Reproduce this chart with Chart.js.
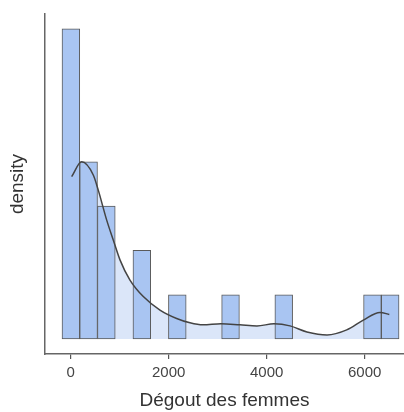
<!DOCTYPE html>
<html>
<head>
<meta charset="utf-8">
<script src="https://cdn.jsdelivr.net/npm/chart.js@4/dist/chart.umd.min.js"></script>
<style>
  html, body { margin: 0; padding: 0; background: #fff; }
  #wrap { width: 404px; height: 412px; }
</style>
</head>
<body>
<div id="wrap"><canvas id="histo" width="404" height="412"></canvas></div>
<script>
// --- données ---
const binCenters = [4, 366, 728, 1090, 1452, 1814, 2176, 2538, 2900, 3262, 3624, 3986, 4348, 4710, 5072, 5434, 5796, 6158, 6520];
const binCounts  = [7, 4, 3, 0, 2, 0, 1, 0, 0, 1, 0, 0, 1, 0, 0, 0, 0, 1, 1];
const binWidth = 362;

// courbe de densité (estimation noyau), lue point par point
const kdeX = [20, 224, 461, 563, 735, 869, 1006, 1210, 1482, 1822, 2163, 2435, 2700, 3067, 3455, 3802, 4149, 4476, 4822, 5231, 5633, 5971, 6312, 6502];
const kdeY = [4.82e-4, 5.26e-4, 4.87e-4, 4.42e-4, 3.53e-4, 2.94e-4, 2.35e-4, 1.75e-4, 1.26e-4, 0.86e-4, 0.61e-4, 0.48e-4, 0.42e-4, 0.45e-4, 0.42e-4, 0.39e-4, 0.45e-4, 0.39e-4, 0.21e-4, 0.12e-4, 0.27e-4, 0.56e-4, 0.79e-4, 0.73e-4];

const xTicks = [0, 2000, 4000, 6000];
const xLabel = 'Dégout des femmes';
const yLabel = 'density';

// histogramme en densité : effectif / (n * largeur de classe)
const nTotal = binCounts.reduce((a, b) => a + b, 0);
const barPoints = binCenters.map((x, i) => ({ x: x, y: binCounts[i] / (nTotal * binWidth) }))
                            .filter(p => p.y > 0);
const kdePoints = kdeX.map((x, i) => ({ x: x, y: kdeY[i] }));

const FONT = '"Liberation Sans", Arial, sans-serif';

new Chart(document.getElementById('histo'), {
    data: {
        datasets: [{
            // zone claire sous la courbe (derrière les barres)
            type: 'line',
            data: kdePoints,
            borderWidth: 0,
            pointRadius: 0,
            backgroundColor: '#dbe6f9',
            fill: 'origin',
            tension: 0.4,
            cubicInterpolationMode: 'monotone',
            order: 2
        }, {
            type: 'bar',
            data: barPoints,
            backgroundColor: '#a9c5f2',
            borderColor: '#5a5a5a',
            borderWidth: 1,
            borderSkipped: false,
            barPercentage: 1,
            categoryPercentage: 1,
            order: 1
        }, {
            type: 'line',
            data: kdePoints,
            borderColor: '#444444',
            borderWidth: 1.5,
            pointRadius: 0,
            fill: false,
            tension: 0.4,
            cubicInterpolationMode: 'monotone',
            order: 0
        }]
    },
    options: {
        responsive: false,
        animation: false,
        layout: { padding: { top: 14, right: 0, bottom: 0, left: 0 } },
        plugins: { legend: { display: false }, tooltip: { enabled: false } },
        scales: {
            x: {
                type: 'linear',
                min: -524,
                max: 6802,
                offset: false,
                afterBuildTicks: (scale) => { scale.ticks = xTicks.map(v => ({ value: v })); },
                afterFit: (scale) => { scale.height = 58; },
                grid: { display: true, offset: false, drawOnChartArea: false, drawTicks: true, tickLength: 5, tickColor: '#555', lineWidth: 1.2 },
                border: { display: true, color: '#666', width: 1.5 },
                ticks: { color: '#444', padding: 5, font: { family: FONT, size: 15 }, maxRotation: 0, callback: (v) => String(v) },
                title: { display: true, text: xLabel, color: '#333', padding: { top: 0, bottom: 0 }, font: { family: FONT, size: 19 } }
            },
            y: {
                type: 'linear',
                min: -0.0000445,
                max: 0.000965,
                afterFit: (scale) => { scale.width = 45; },
                grid: { display: false },
                border: { display: true, color: '#666', width: 1.5 },
                ticks: { display: false },
                title: { display: true, text: yLabel, color: '#333', padding: { top: 6, bottom: 0 }, font: { family: FONT, size: 19 } }
            }
        }
    }
});
</script>
</body>
</html>
